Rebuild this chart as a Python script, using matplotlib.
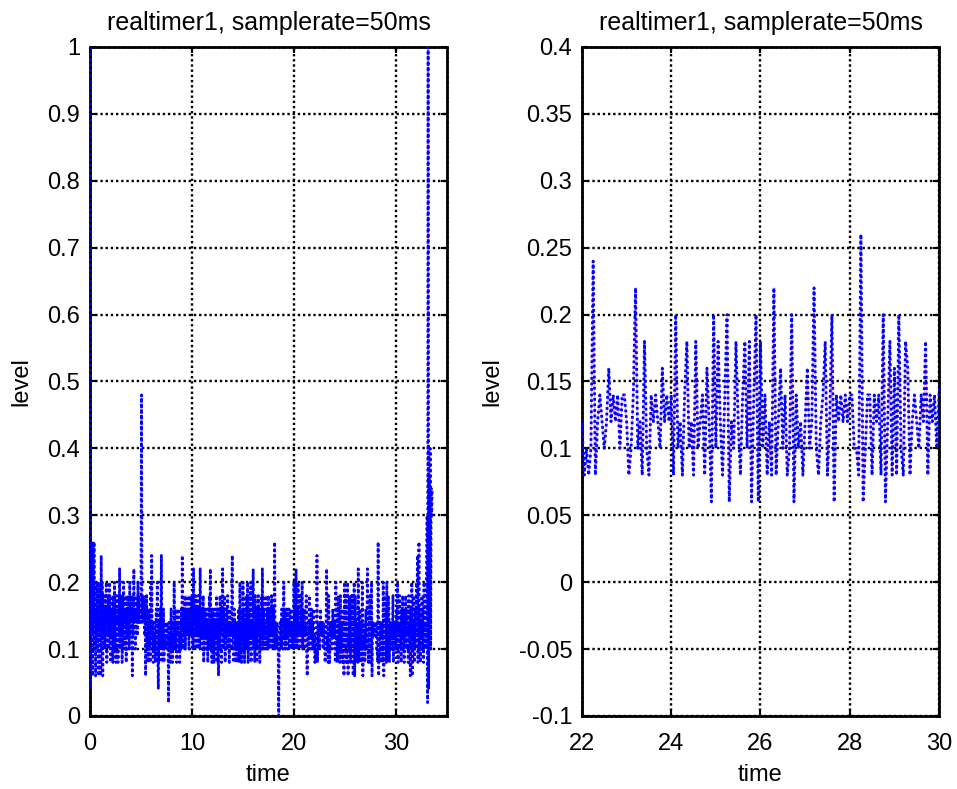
import numpy as np
import matplotlib
matplotlib.use("Agg")
import matplotlib.pyplot as plt

plt.rcParams['font.family'] = ['Liberation Sans', 'DejaVu Sans']

SAMPLE_PERIOD = 0.05  # 50 ms

# level samples, 0 s .. 5 s
level_00_05 = [
    1.00, 0.04, 0.26, 0.12, 0.26, 0.06, 0.26, 0.14, 0.26, 0.10,
    0.20, 0.06, 0.16, 0.12, 0.20, 0.10, 0.18, 0.06, 0.20, 0.12,
    0.18, 0.06, 0.24, 0.10, 0.20, 0.06, 0.16, 0.12, 0.18, 0.10,
    0.16, 0.14, 0.20, 0.08, 0.16, 0.12, 0.18, 0.10, 0.20, 0.12,
    0.16, 0.08, 0.18, 0.12, 0.16, 0.08, 0.18, 0.12, 0.20, 0.10,
    0.16, 0.08, 0.18, 0.14, 0.16, 0.08, 0.18, 0.12, 0.22, 0.10,
    0.18, 0.14, 0.16, 0.08, 0.18, 0.12, 0.20, 0.10, 0.16, 0.14,
    0.18, 0.08, 0.16, 0.12, 0.18, 0.14, 0.16, 0.10, 0.20, 0.12,
    0.18, 0.14, 0.16, 0.06, 0.18, 0.12, 0.22, 0.14, 0.16, 0.10,
    0.18, 0.14, 0.16, 0.12, 0.20, 0.14, 0.18, 0.14, 0.16, 0.14,
]
# 5 s .. 10 s
level_05_10 = [
    0.18, 0.48, 0.14, 0.18, 0.16, 0.14, 0.18, 0.12, 0.16, 0.06,
    0.14, 0.18, 0.10, 0.12, 0.08, 0.16, 0.10, 0.14, 0.08, 0.20,
    0.12, 0.24, 0.10, 0.14, 0.08, 0.12, 0.10, 0.14, 0.08, 0.12,
    0.16, 0.08, 0.20, 0.10, 0.04, 0.14, 0.08, 0.16, 0.10, 0.12,
    0.24, 0.08, 0.14, 0.10, 0.16, 0.08, 0.12, 0.10, 0.14, 0.12,
    0.12, 0.14, 0.10, 0.12, 0.02, 0.14, 0.10, 0.12, 0.08, 0.16,
    0.10, 0.14, 0.08, 0.12, 0.10, 0.20, 0.12, 0.14, 0.10, 0.16,
    0.08, 0.14, 0.12, 0.16, 0.10, 0.12, 0.08, 0.14, 0.10, 0.16,
    0.12, 0.24, 0.10, 0.14, 0.16, 0.12, 0.18, 0.10, 0.16, 0.12,
    0.18, 0.14, 0.12, 0.16, 0.10, 0.18, 0.12, 0.16, 0.14, 0.18,
]
# 10 s .. 15 s
level_10_15 = [
    0.12, 0.18, 0.10, 0.22, 0.14, 0.16, 0.10, 0.18, 0.12, 0.16,
    0.10, 0.14, 0.18, 0.12, 0.16, 0.10, 0.22, 0.12, 0.14, 0.10,
    0.16, 0.12, 0.18, 0.08, 0.14, 0.12, 0.16, 0.10, 0.14, 0.12,
    0.16, 0.08, 0.14, 0.10, 0.18, 0.12, 0.22, 0.10, 0.14, 0.08,
    0.16, 0.12, 0.14, 0.08, 0.16, 0.10, 0.14, 0.12, 0.18, 0.08,
    0.16, 0.10, 0.06, 0.14, 0.10, 0.18, 0.12, 0.16, 0.08, 0.14,
    0.22, 0.10, 0.16, 0.12, 0.18, 0.08, 0.14, 0.12, 0.16, 0.10,
    0.18, 0.12, 0.14, 0.08, 0.16, 0.12, 0.14, 0.10, 0.18, 0.24,
    0.12, 0.14, 0.08, 0.16, 0.10, 0.12, 0.14, 0.08, 0.12, 0.14,
    0.10, 0.16, 0.08, 0.12, 0.20, 0.10, 0.14, 0.08, 0.16, 0.12,
]
# 15 s .. 22 s
level_15_22 = [
    0.20, 0.10, 0.16, 0.08, 0.14, 0.12, 0.18, 0.10, 0.14, 0.20,
    0.08, 0.16, 0.12, 0.18, 0.10, 0.20, 0.08, 0.14, 0.12, 0.16,
    0.22, 0.10, 0.14, 0.08, 0.18, 0.12, 0.16, 0.08, 0.14, 0.10,
    0.18, 0.12, 0.16, 0.08, 0.14, 0.10, 0.18, 0.12, 0.22, 0.10,
    0.16, 0.12, 0.18, 0.10, 0.14, 0.12, 0.18, 0.10, 0.16, 0.14,
    0.18, 0.10, 0.14, 0.12, 0.16, 0.10, 0.18, 0.12, 0.14, 0.10,
    0.16, 0.12, 0.26, 0.10, 0.14, 0.12, 0.10, 0.14, 0.12, 0.10,
    0.00, 0.12, 0.10, 0.14, 0.12, 0.10, 0.16, 0.12, 0.10, 0.14,
    0.20, 0.12, 0.16, 0.10, 0.14, 0.12, 0.16, 0.10, 0.14, 0.12,
    0.16, 0.10, 0.14, 0.12, 0.16, 0.10, 0.14, 0.12, 0.10, 0.16,
    0.20, 0.10, 0.18, 0.12, 0.22, 0.10, 0.16, 0.12, 0.20, 0.10,
    0.14, 0.12, 0.18, 0.10, 0.16, 0.12, 0.20, 0.10, 0.14, 0.12,
    0.16, 0.10, 0.14, 0.12, 0.18, 0.08, 0.06, 0.12, 0.14, 0.10,
    0.18, 0.12, 0.14, 0.10, 0.16, 0.12, 0.14, 0.10, 0.16, 0.10,
]
# 22 s .. 30 s
level_22_30 = [
    0.12, 0.08, 0.10, 0.08, 0.10, 0.24, 0.08, 0.12, 0.14, 0.12,
    0.10, 0.12, 0.16, 0.12, 0.14, 0.12, 0.14, 0.10, 0.14, 0.14,
    0.12, 0.08, 0.10, 0.14, 0.22, 0.10, 0.12, 0.08, 0.18, 0.10,
    0.08, 0.14, 0.12, 0.14, 0.12, 0.10, 0.16, 0.12, 0.14, 0.12,
    0.14, 0.08, 0.20, 0.10, 0.12, 0.08, 0.14, 0.18, 0.10, 0.12,
    0.08, 0.18, 0.10, 0.12, 0.14, 0.08, 0.16, 0.12, 0.06, 0.20,
    0.10, 0.18, 0.12, 0.08, 0.14, 0.20, 0.06, 0.12, 0.10, 0.18,
    0.12, 0.08, 0.14, 0.18, 0.10, 0.18, 0.06, 0.14, 0.20, 0.06,
    0.18, 0.10, 0.14, 0.08, 0.12, 0.08, 0.22, 0.08, 0.12, 0.16,
    0.10, 0.14, 0.08, 0.10, 0.20, 0.06, 0.14, 0.10, 0.12, 0.08,
    0.12, 0.16, 0.10, 0.12, 0.22, 0.10, 0.08, 0.12, 0.14, 0.18,
    0.08, 0.12, 0.20, 0.06, 0.14, 0.12, 0.14, 0.12, 0.14, 0.12,
    0.14, 0.14, 0.10, 0.10, 0.08, 0.26, 0.06, 0.10, 0.14, 0.14,
    0.08, 0.14, 0.12, 0.14, 0.08, 0.20, 0.06, 0.12, 0.18, 0.08,
    0.16, 0.08, 0.20, 0.10, 0.08, 0.18, 0.16, 0.08, 0.12, 0.14,
    0.12, 0.10, 0.14, 0.12, 0.18, 0.08, 0.14, 0.12, 0.14, 0.10,
]
# 30 s .. end
level_30_end = [
    0.14, 0.16, 0.10, 0.20, 0.08, 0.14, 0.12, 0.18, 0.10, 0.14,
    0.08, 0.16, 0.12, 0.18, 0.10, 0.14, 0.08, 0.16, 0.12, 0.18,
    0.10, 0.14, 0.12, 0.16, 0.08, 0.18, 0.10, 0.14, 0.06, 0.16,
    0.12, 0.20, 0.06, 0.14, 0.10, 0.18, 0.08, 0.12, 0.16, 0.10,
    0.20, 0.12, 0.24, 0.08, 0.14, 0.26, 0.10, 0.16, 0.08, 0.14,
    0.12, 0.18, 0.10, 0.16, 0.08, 0.20, 0.12, 0.14, 0.10, 0.18,
    0.22, 0.30, 0.02, 1.00, 0.04, 0.36, 0.14, 0.40, 0.10, 0.34,
    0.30, 0.34,
]

title_text = "realtimer1, samplerate=50ms"
left_xticks = [0, 10, 20, 30]
left_yticks = [0, 0.1, 0.2, 0.3, 0.4, 0.5, 0.6, 0.7, 0.8, 0.9, 1]
left_yticklabels = ["0", "0.1", "0.2", "0.3", "0.4", "0.5", "0.6", "0.7", "0.8", "0.9", "1"]
right_xticks = [22, 24, 26, 28, 30]
right_yticks = [-0.1, -0.05, 0, 0.05, 0.1, 0.15, 0.2, 0.25, 0.3, 0.35, 0.4]
right_yticklabels = ["-0.1", "-0.05", "0", "0.05", "0.1", "0.15", "0.2", "0.25", "0.3", "0.35", "0.4"]

level = np.array(level_00_05 + level_05_10 + level_10_15 + level_15_22 + level_22_30 + level_30_end)
time = np.arange(len(level)) * SAMPLE_PERIOD

fig = plt.figure(figsize=(9.57, 7.89), dpi=100)
ax1 = fig.add_axes([90/957, 1-716/789, 357/957, 669/789])
ax2 = fig.add_axes([582/957, 1-716/789, 357/957, 669/789])

FS = 17
for ax, xlim, ylim, xt, yt, ytl in [
    (ax1, (0, 35), (0, 1), left_xticks, left_yticks, left_yticklabels),
    (ax2, (22, 30), (-0.1, 0.4), right_xticks, right_yticks, right_yticklabels),
]:
    ax.plot(time, level, color='#cc44cc', lw=0.9, alpha=0.45, zorder=2)
    ax.plot(time, level, color='#0000ff', lw=2.0, linestyle=(0, (1, 1.0)), zorder=3)
    ax.set_xlim(*xlim)
    ax.set_ylim(*ylim)
    ax.set_xticks(xt)
    ax.set_xticklabels([str(v) for v in xt])
    ax.set_yticks(yt)
    ax.set_yticklabels(ytl)
    ax.grid(True, color='black', linestyle=(0, (1, 1.2)), linewidth=1.7)
    ax.set_axisbelow(False)
    for sp in ax.spines.values():
        sp.set_linestyle((0, (1, 0.8)))
        sp.set_linewidth(2.0)
        sp.set_color('black')
    ax.tick_params(direction='in', length=4, width=1.5, top=True, right=True,
                   labelsize=FS, colors='black')
    ax.tick_params(axis='x', pad=12)
    ax.tick_params(axis='y', pad=7)
    ax.set_title(title_text, fontsize=18, pad=12)
    ax.set_xlabel("time", fontsize=FS, labelpad=7)
    ax.set_ylabel("level", fontsize=FS, labelpad=11)

fig.savefig("out.png", dpi=100)
